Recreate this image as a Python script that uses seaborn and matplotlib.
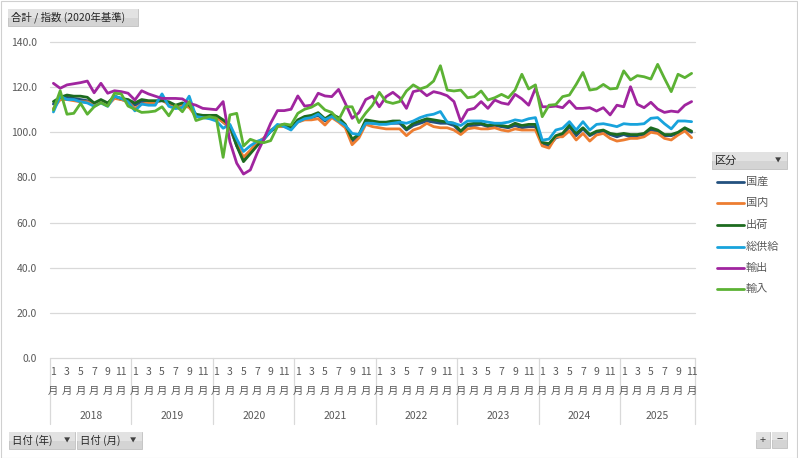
import matplotlib
matplotlib.use("Agg")
import numpy as np
import pandas as pd
import matplotlib.pyplot as plt
import seaborn as sns
from matplotlib.lines import Line2D
from matplotlib.patches import Rectangle
import matplotlib.transforms as mtransforms

# ---------------- data ----------------
years = [2018, 2019, 2020, 2021, 2022, 2023, 2024, 2025]
months_in_year = [12, 12, 12, 12, 12, 12, 12, 11]
series_names = ["国産", "国内", "出荷", "総供給", "輸出", "輸入"]

kokusan = [112.5, 114.5, 115.5, 115, 114.5, 114, 112.5, 114, 112.5, 115.5, 114.5, 114,
           112, 113.5, 113.5, 113.5, 114, 113, 111.5, 112.5, 111.5, 107.5, 107, 107,
           107, 104.5, 102, 94, 88, 91, 94.5, 97, 100.5, 102.5, 103, 101.5,
           105, 106, 106.5, 107.5, 105, 107, 105.5, 102.5, 96, 98.5, 104.5, 104,
           104, 104, 104, 104, 101, 103, 104, 105, 104.5, 104, 104, 103,
           100, 103, 103, 103.5, 102.5, 103, 102.5, 102, 103, 102, 102.5, 102.5,
           95, 94, 97.5, 98.5, 102.5, 98.5, 101.5, 98.5, 100, 100.5, 99, 98,
           99, 98, 98.5, 99, 101, 100.5, 98.5, 98.5, 99.5, 101.5, 100]
kokunai = [110.5, 114.5, 114.5, 114, 113.5, 113.5, 112, 113.5, 112, 115, 114.5, 113.5,
           110.5, 112.5, 113, 113, 114.5, 112, 111, 112, 111, 107, 106.5, 106.5,
           106.5, 104.5, 102, 95, 89, 92, 95.5, 97.5, 101, 102.5, 102.5, 101.5,
           104.5, 105.5, 105.5, 106, 103.2, 106.5, 104.5, 102, 94.5, 97.5, 103.5, 102.5,
           102, 101.5, 101.5, 101.5, 98.5, 101, 102, 104, 102.5, 102, 102, 101,
           99, 101.5, 102, 101.5, 101.5, 102, 101, 100.5, 101.5, 101, 101, 101,
           94, 93, 98, 98, 100.6, 96.6, 99.5, 96.1, 98.8, 99.5, 97.3, 96.1,
           96.6, 97.3, 97.3, 98, 100, 99.5, 97.3, 96.6, 98.8, 100.6, 97.6]
shukka = [113.6, 115.5, 116.5, 116, 116, 115.5, 113, 114.5, 113, 116, 115, 114.5,
          113, 114.5, 114, 114, 114, 113.5, 112, 113, 112, 108, 107.5, 107.5,
          107.5, 105.5, 103, 94, 87, 90.5, 94, 97, 100.5, 103, 103.5, 102,
          105.5, 107, 107.5, 108.7, 106, 108, 106.5, 103.5, 97, 99, 105.5, 105,
          104.5, 104.5, 105, 105, 101.5, 104, 105, 106, 105.5, 105, 104.5, 104,
          100.5, 103.5, 104, 104, 103, 103.5, 103, 102.5, 104, 103, 103.5, 103.5,
          95.5, 95, 98.5, 99.5, 103.2, 99.5, 102, 99, 100.5, 101, 99.5, 99,
          99.5, 99, 99, 99.5, 102, 101, 99, 99, 100, 102, 100.5]
sokyokyu = [109, 116, 114.5, 114.5, 113.5, 113, 111.5, 113, 111.5, 116, 115, 113.5,
            109.5, 112.5, 112, 112, 117, 111.5, 110.5, 111, 116, 107, 106.5, 106,
            105, 101.8, 103.5, 97, 91.5, 94, 96, 97, 100.5, 103.5, 102.5, 101,
            104.5, 106, 106.5, 108, 105.5, 107, 105, 103, 99.5, 99, 104, 104,
            103.5, 103.5, 104, 104.5, 104, 105, 106.5, 107.5, 108, 109.2, 104.5, 104,
            103, 105, 105, 105, 104.5, 104, 104, 104.5, 105.5, 105, 106, 106.5,
            96.5, 97, 101, 101.8, 104.7, 101, 104.7, 101, 103.5, 103.8, 103.2, 102.5,
            103.8, 103.5, 103.5, 103.8, 106.2, 106.5, 103.8, 101.5, 105, 105, 104.7]
yushutsu = [121.7, 119.5, 121, 121.5, 122, 122.7, 117.5, 121.7, 117.3, 118.4, 118, 117.3,
            114.3, 118.4, 117, 116, 115, 115, 115, 114.8, 112.8, 112, 110.6, 110.3,
            110, 113.6, 95.8, 86.3, 81.5, 83.3, 90.7, 97, 104, 109.6, 109.6, 110.2,
            116.1, 111.6, 112, 117.3, 116.1, 115.8, 119, 112.8, 106.2, 108.7, 114.5, 116,
            111.3, 115.8, 117.7, 115.3, 110.6, 118, 118.7, 116.2, 118, 117.3, 116.2, 113.6,
            104.7, 109.9, 110.6, 113.6, 110.6, 114.3, 113, 112.4, 116.8, 114.8, 112, 119.5,
            111.3, 111.3, 111.6, 110.9, 113.9, 110.6, 110.6, 110.9, 109.4, 110.9, 107.7, 112,
            111.3, 120.2, 112.4, 110.9, 113.3, 110.3, 108.8, 109.4, 109, 112, 113.6]
yunyu = [109.9, 118.4, 108, 108.4, 112.8, 108, 111.3, 113.1, 111.6, 117.3, 117, 111.6,
         110.2, 108.8, 109, 109.4, 111.3, 107.3, 112, 109.1, 113.6, 105.2, 106.2, 106.9,
         106.2, 88.9, 107.7, 108.4, 93.9, 96.9, 95.8, 95.4, 96.3, 102.5, 103.7, 103.2,
         108.4, 110.2, 111.1, 112.8, 109.9, 108.8, 105.4, 111.3, 111.3, 104.3, 108.5, 112,
         117.7, 113.6, 112.8, 113.6, 118.3, 121, 119.2, 120.2, 122.7, 129.5, 118.7, 118.3,
         118.7, 115.3, 115.8, 118.3, 114.3, 115.3, 116.8, 115.3, 118.7, 125.7, 119.2, 121,
         106.9, 112, 112.3, 115.8, 116.5, 121.2, 126.5, 118.7, 119.2, 121.2, 119.2, 119.5,
         127.2, 123.2, 125.1, 124.6, 123.6, 130.1, 123.9, 118, 125.7, 124.2, 126.1]

colors = {"国産": "#23517f", "国内": "#ed7d31", "出荷": "#1d6b1f",
          "総供給": "#18a3dc", "輸出": "#a0259f", "輸入": "#5cb234"}

# ---------------- build table ----------------
cat_year, cat_month = [], []
for y, n in zip(years, months_in_year):
    for m in range(1, n + 1):
        cat_year.append(y)
        cat_month.append(m)
ncat = len(cat_year)
values = [kokusan, kokunai, shukka, sokyokyu, yushutsu, yunyu]
rows = []
for name, vals in zip(series_names, values):
    for i, v in enumerate(vals):
        rows.append({"pos": i, "値": v, "区分": name})
df = pd.DataFrame(rows)

# ---------------- figure ----------------
sns.set_theme(style="white")
FONT = ["Noto Sans CJK JP", "DejaVu Sans"]
plt.rcParams["font.family"] = FONT

W, H = 798, 458
fig = plt.figure(figsize=(W / 100, H / 100), dpi=100)
fig.patch.set_facecolor("white")

def fx(px):
    return px / W

def fy(py):
    return 1 - py / H

LW = 2.0
ax_l, ax_r, ax_t, ax_b = 50, 695, 42, 358
ax = fig.add_axes([fx(ax_l), fy(ax_b), (ax_r - ax_l) / W, (ax_b - ax_t) / H])

sns.lineplot(data=df, x="pos", y="値", hue="区分", hue_order=series_names,
             palette=colors, linewidth=LW, legend=False, ax=ax, sort=True)

ax.set_xlim(-0.5, ncat - 0.5)
ax.set_ylim(0, 140)
yt = np.arange(0, 141, 20)
ax.set_yticks(yt)
ax.set_yticklabels([f"{v:.1f}" for v in yt], fontsize=7.5, color="#595959")
ax.tick_params(axis="y", length=0, pad=9.5)
ax.set_xticks([])
ax.set_xlabel("")
ax.set_ylabel("")
for s in ax.spines.values():
    s.set_visible(False)
for v in yt:
    ax.axhline(v, color="#d9d9d9", lw=0.9, zorder=0, clip_on=False)

# category axis (two-level)
blend = mtransforms.blended_transform_factory(ax.transData, fig.transFigure)
tcol = "#595959"
for i, (y, m) in enumerate(zip(cat_year, cat_month)):
    if m % 2 == 1:
        ax.text(i, fy(372), str(m), transform=blend, ha="center", va="center",
                fontsize=7.5, color=tcol, clip_on=False)
        ax.text(i, fy(391), "月", transform=blend, ha="center", va="center",
                fontsize=7.5, color=tcol, clip_on=False)
start = 0
bounds = [-0.5]
for y, n in zip(years, months_in_year):
    ax.text(start + (n - 1) / 2, fy(416), str(y), transform=blend, ha="center",
            va="center", fontsize=7.5, color=tcol, clip_on=False)
    start += n
    bounds.append(start - 0.5)
for b in bounds:
    ax.add_line(Line2D([b, b], [fy(358), fy(424)], transform=blend,
                       color="#d9d9d9", lw=0.9, clip_on=False))

# ---------------- decorations (pivot buttons, legend) ----------------
def button(x0, y0, x1, y1, text, arrow=None, tx=None, fs=7.5):
    fig.add_artist(Rectangle((fx(x0), fy(y1)), (x1 - x0) / W, (y1 - y0) / H,
                             transform=fig.transFigure, facecolor="#d4d4d4",
                             edgecolor="#c0c0c0", lw=0.6))
    fig.add_artist(Rectangle((fx(x0), fy((y0 + y1) / 2)), (x1 - x0) / W,
                             (y1 - y0) / 2 / H, transform=fig.transFigure,
                             facecolor="#e2e2e2", edgecolor="none"))
    if text:
        fig.text(fx(tx if tx is not None else x0 + 4), fy((y0 + y1) / 2), text,
                 ha="left", va="center", fontsize=fs, color="#262626")
    if arrow is not None:
        fig.text(fx(arrow), fy((y0 + y1) / 2 + 0.5), "▼", ha="center", va="center",
                 fontsize=4.5, color="#404040", family=FONT)

button(8, 9, 138, 26, "合計 / 指数 (2020年基準)", tx=11)
button(712, 152, 787, 169, "区分", arrow=778, tx=715, fs=8)
button(9, 432, 75, 449, "日付 (年)", arrow=67, tx=12)
button(77, 432, 142, 449, "日付 (月)", arrow=133, tx=80)
button(756, 432, 770, 448, None)
button(772, 432, 787, 448, None)
fig.text(fx(763), fy(440), "+", ha="center", va="center", fontsize=8, color="#404040")
fig.text(fx(779.5), fy(440), "−", ha="center", va="center", fontsize=8, color="#404040")

leg_y = [182, 203.5, 225, 246.5, 268, 289]
for name, yy in zip(series_names, leg_y):
    fig.add_artist(Line2D([fx(717), fx(744)], [fy(yy), fy(yy)],
                          transform=fig.transFigure, color=colors[name], lw=LW))
    fig.text(fx(746), fy(yy), name, ha="left", va="center", fontsize=8, color=tcol)

# outer border
fig.add_artist(Rectangle((0.5 / W, 0.5 / H), (W - 1.5) / W, (H - 1.5) / H,
                         transform=fig.transFigure, facecolor="none",
                         edgecolor="#d0d0d0", lw=0.8))

fig.savefig("out.png", dpi=100)
